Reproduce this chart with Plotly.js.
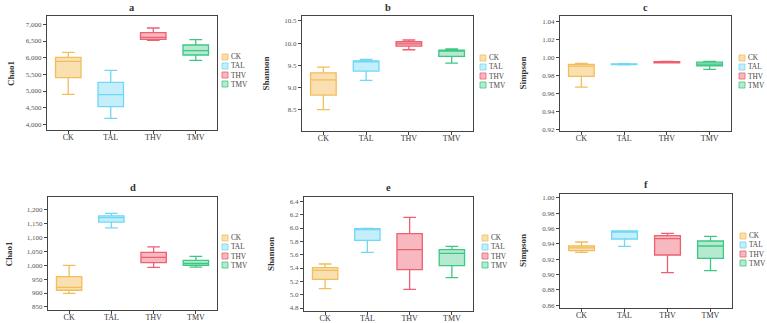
<!DOCTYPE html>
<html>
<head>
<meta charset="utf-8">
<script src="https://cdn.plot.ly/plotly-3.0.1.min.js"></script>
<style>html,body{margin:0;padding:0;background:#fff;}#chart{width:767px;height:323px;}</style>
</head>
<body>
<div id="chart"></div>
<script>
// ---- data ----
const groups = ['CK', 'TAL', 'THV', 'TMV'];
const lineColors = ['#F2BE5C', '#6FD8F5', '#EE6070', '#3CC882'];
const fillColors = ['#FADFB0', '#C5EEFB', '#F8B8C0', '#B5EAD0'];

// panel a: Chao1 (top)
const aLower  = [4900, 4180, 6520, 5920];
const aQ1     = [5400, 4530, 6550, 6080];
const aMedian = [5890, 4890, 6610, 6210];
const aQ3     = [6010, 5260, 6750, 6380];
const aUpper  = [6160, 5620, 6890, 6540];

// panel b: Shannon (top)
const bLower  = [8.50, 9.16, 9.85, 9.55];
const bQ1     = [8.83, 9.37, 9.93, 9.70];
const bMedian = [9.17, 9.59, 9.98, 9.82];
const bQ3     = [9.33, 9.60, 10.03, 9.84];
const bUpper  = [9.46, 9.63, 10.07, 9.87];

// panel c: Simpson (top)
const cLower  = [0.9667, 0.9915, 0.9935, 0.9864];
const cQ1     = [0.9786, 0.9918, 0.9937, 0.9904];
const cMedian = [0.9900, 0.9920, 0.9944, 0.9923];
const cQ3     = [0.9920, 0.9925, 0.9950, 0.9945];
const cUpper  = [0.9930, 0.9928, 0.9952, 0.9952];

// panel d: Chao1 (bottom)
const dLower  = [899, 1134, 992, 993];
const dQ1     = [910, 1155, 1009, 999];
const dMedian = [920, 1171, 1028, 1006];
const dQ3     = [959, 1177, 1046, 1017];
const dUpper  = [999, 1186, 1066, 1032];

// panel e: Shannon (bottom)
const eLower  = [5.09, 5.635, 5.08, 5.255];
const eQ1     = [5.23, 5.815, 5.375, 5.435];
const eMedian = [5.365, 5.975, 5.675, 5.62];
const eQ3     = [5.405, 5.99, 5.915, 5.675];
const eUpper  = [5.46, 5.995, 6.16, 5.725];

// panel f: Simpson (bottom)
const fLower  = [0.9291, 0.9370, 0.9026, 0.9052];
const fQ1     = [0.9313, 0.9465, 0.9256, 0.9213];
const fMedian = [0.9348, 0.9555, 0.9470, 0.9374];
const fQ3     = [0.9374, 0.9570, 0.9509, 0.9439];
const fUpper  = [0.9426, 0.9565, 0.9539, 0.9500];

const panelLetters = ['a', 'b', 'c', 'd', 'e', 'f'];
const panelYTitles = ['Chao1', 'Shannon', 'Simpson', 'Chao1', 'Shannon', 'Simpson'];

// ---- layout geometry (pixels) ----
const W = 767, H = 323;
const px = v => v / W;
const py = v => 1 - v / H;

const panels = [
  {stats: [aLower, aQ1, aMedian, aQ3, aUpper], box: [47, 217, 16, 130], range: [3830, 7250], dtick: 500, t0: 4000, fmt: ',', titleY: 7, yTitleX: 11, legX: 222, legY0: 57},
  {stats: [bLower, bQ1, bMedian, bQ3, bUpper], box: [302, 473, 16, 131], range: [8.02, 10.61], dtick: 0.5, t0: 8.5, fmt: '.1f', titleY: 7, yTitleX: 266, legX: 480, legY0: 58},
  {stats: [cLower, cQ1, cMedian, cQ3, cUpper], box: [560, 731, 16, 131], range: [0.918, 1.0456], dtick: 0.02, t0: 0.92, fmt: '.2f', titleY: 7, yTitleX: 523, legX: 739, legY0: 58},
  {stats: [dLower, dQ1, dMedian, dQ3, dUpper], box: [48, 217, 197, 310], range: [839, 1245], dtick: 50, t0: 850, fmt: ',', titleY: 187, yTitleX: 8, legX: 222, legY0: 238},
  {stats: [eLower, eQ1, eMedian, eQ3, eUpper], box: [304, 473, 197, 311], range: [4.755, 6.465], dtick: 0.2, t0: 4.8, fmt: '.1f', titleY: 187, yTitleX: 271, legX: 482, legY0: 238},
  {stats: [fLower, fQ1, fMedian, fQ3, fUpper], box: [560, 732, 194, 308], range: [0.8565, 1.0052], dtick: 0.02, t0: 0.86, fmt: '.2f', titleY: 184, yTitleX: 523, legX: 740, legY0: 236}
];

const legendStep = 9;
const serif = 'Liberation Serif, Times New Roman, serif';
const traces = [];
const layout = {
  width: W, height: H,
  margin: {l: 0, r: 0, t: 0, b: 0},
  paper_bgcolor: '#fff', plot_bgcolor: '#fff',
  showlegend: false,
  font: {family: serif, color: '#333'},
  annotations: [], shapes: []
};

panels.forEach((p, i) => {
  const n = i + 1;
  const xa = n === 1 ? 'x' : 'x' + n;
  const ya = n === 1 ? 'y' : 'y' + n;
  const xKey = n === 1 ? 'xaxis' : 'xaxis' + n;
  const yKey = n === 1 ? 'yaxis' : 'yaxis' + n;
  const [lo, q1, md, q3, up] = p.stats;
  groups.forEach((g, k) => {
    traces.push({
      type: 'box', name: g, x: [g],
      lowerfence: [lo[k]], q1: [q1[k]], median: [md[k]], q3: [q3[k]], upperfence: [up[k]],
      xaxis: xa, yaxis: ya,
      line: {color: lineColors[k], width: 1.3},
      fillcolor: fillColors[k],
      width: 0.6, whiskerwidth: 0.5,
      boxpoints: false, hoverinfo: 'skip'
    });
  });
  const [x0, x1, y0, y1] = p.box;
  layout[xKey] = {
    domain: [px(x0), px(x1)], anchor: ya,
    type: 'category', categoryorder: 'array', categoryarray: groups,
    range: [-0.5, 3.5],
    showline: true, mirror: true, linecolor: '#444', linewidth: 1.2,
    ticks: 'outside', ticklen: 3, tickcolor: '#444',
    ticklabelstandoff: -4,
    tickfont: {family: serif, size: 8, color: '#333'},
    showgrid: false, zeroline: false, fixedrange: true
  };
  layout[yKey] = {
    domain: [py(y1), py(y0)], anchor: xa,
    range: p.range, tick0: p.t0, dtick: p.dtick, tickformat: p.fmt,
    showline: true, mirror: true, linecolor: '#444', linewidth: 1.2,
    ticks: 'outside', ticklen: 3, tickcolor: '#444',
    tickfont: {family: serif, size: 7, color: '#555'},
    showgrid: false, zeroline: false, fixedrange: true
  };
  // panel letter
  layout.annotations.push({
    xref: 'paper', yref: 'paper', x: px((x0 + x1) / 2), y: py(p.titleY),
    xanchor: 'center', yanchor: 'middle', showarrow: false,
    text: '<b>' + panelLetters[i] + '</b>',
    font: {family: serif, size: 10.5, color: '#333'}
  });
  // y title
  layout.annotations.push({
    xref: 'paper', yref: 'paper', x: px(p.yTitleX), y: py((y0 + y1) / 2),
    xanchor: 'center', yanchor: 'middle', showarrow: false, textangle: -90,
    text: '<b>' + panelYTitles[i] + '</b>',
    font: {family: serif, size: 9, color: '#333'}
  });
  // legend: swatches + one multi-line text block
  groups.forEach((g, k) => {
    const cy = p.legY0 + k * legendStep;
    layout.shapes.push({
      type: 'rect', xref: 'paper', yref: 'paper',
      x0: px(p.legX), x1: px(p.legX + 6), y0: py(cy + 3), y1: py(cy - 3),
      line: {color: lineColors[k], width: 0.8}, fillcolor: fillColors[k]
    });
  });
  layout.annotations.push({
    xref: 'paper', yref: 'paper', x: px(p.legX + 7), y: py(p.legY0 + 1.5 * legendStep),
    xanchor: 'left', yanchor: 'middle', align: 'left', showarrow: false,
    text: groups.join('<br>'), font: {family: serif, size: 7.3, color: '#444'}
  });
});

Plotly.newPlot('chart', traces, layout, {displayModeBar: false, staticPlot: true});
</script>
</body>
</html>
